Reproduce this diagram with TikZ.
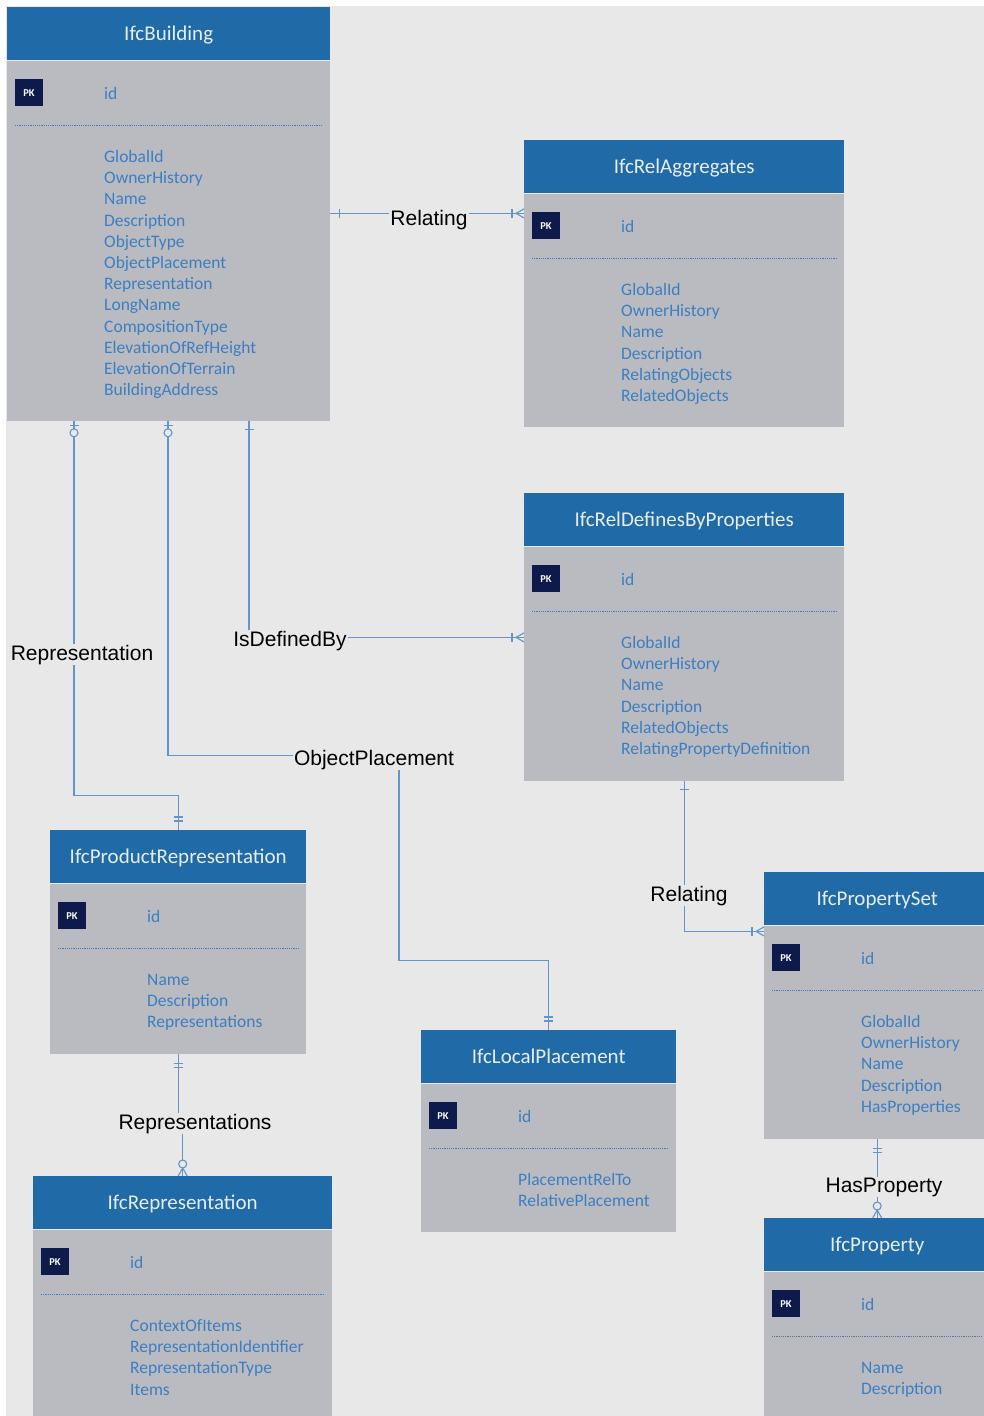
\documentclass[tikz,border=0pt]{standalone}
\usepackage{fontspec}
\usepackage{tikz}
\usetikzlibrary{calc,decorations.markings}

\newfontfamily\tblfont{Carlito}
\newfontfamily\lblfont{Liberation Sans}

\definecolor{bg}{HTML}{E8E8E8}
\definecolor{hdrblue}{HTML}{1F6AA7}
\definecolor{hdrtext}{HTML}{E6EDF5}
\definecolor{bodygray}{HTML}{B9BBC0}
\definecolor{attrblue}{HTML}{3D7EC3}
\definecolor{relblue}{HTML}{6394CC}
\definecolor{pknavy}{HTML}{0E1A4B}

\tikzset{
  hdr/.style={fill=hdrblue, text=hdrtext, minimum height=53pt, inner sep=0pt,
    text height=17pt, text depth=4pt, font=\tblfont\fontsize{21}{21}\selectfont},
  bodybox/.style={fill=bodygray, inner sep=0pt},
  pk/.style={fill=pknavy, text=white, minimum width=28pt, minimum height=27pt,
    inner sep=0pt, font=\tblfont\bfseries\fontsize{10.5}{10.5}\selectfont},
  attr/.style={anchor=base west, inner sep=0pt, text=attrblue,
    font=\tblfont\fontsize{17.5}{17.5}\selectfont},
  sepline/.style={draw=attrblue, line width=1pt, dash pattern=on 1.2pt off 1pt},
  rel/.style={draw=relblue, line width=1.1pt},
  mk/.style={draw=relblue, line width=1.1pt},
  lbl/.style={anchor=base, fill=bg, inner sep=1pt, text=black,
    font=\lblfont\fontsize{21}{21}\selectfont},
  % cardinality marks
  onestart/.style={postaction={decorate, decoration={markings,
    mark=at position 9pt with {\draw[mk] (0,-4.5pt) -- (0,4.5pt);}}}},
  zeroonestart/.style={postaction={decorate, decoration={markings,
    mark=at position 5pt with {\draw[mk] (0,-4.5pt) -- (0,4.5pt);},
    mark=at position 12pt with {\draw[mk, fill=bg] (0,0) circle[radius=4pt];}}}},
  onlyonestart/.style={postaction={decorate, decoration={markings,
    mark=at position 10pt with {\draw[mk] (0,-4.5pt) -- (0,4.5pt);},
    mark=at position 14pt with {\draw[mk] (0,-4.5pt) -- (0,4.5pt);}}}},
  onlyoneend/.style={postaction={decorate, decoration={markings,
    mark=at position -13pt with {\draw[mk] (0,-4.5pt) -- (0,4.5pt);},
    mark=at position -9pt with {\draw[mk] (0,-4.5pt) -- (0,4.5pt);}}}},
  manyend/.style={postaction={decorate, decoration={markings,
    mark=at position -12pt with {\draw[mk] (0,-4.5pt) -- (0,4.5pt);},
    mark=at position -8pt with {\draw[mk] (0,0) -- (8pt,4.5pt) (0,0) -- (8pt,-4.5pt);}}}},
  zeromanyend/.style={postaction={decorate, decoration={markings,
    mark=at position -12pt with {\draw[mk, fill=bg] (0,0) circle[radius=4pt];},
    mark=at position -8pt with {\draw[mk] (0,0) -- (8pt,4.5pt) (0,0) -- (8pt,-4.5pt);}}}}
}

% #1 name, #2 left, #3 top, #4 width, #5 body height, #6 title, #7 attributes
\newcommand{\ifcentity}[7]{%
  \node[hdr, minimum width=#4pt, anchor=north west] (#1h) at (#2,#3) {#6};
  \node[bodybox, minimum width=#4pt, minimum height=#5pt, anchor=north west] (#1b) at (#1h.south west) {};
  \node[pk] (#1pk) at ($(#1b.north west)+(22,32.5)$) {PK};
  \node[attr] (#1id) at ($(#1b.north west)+(97,39)$) {id};
  \draw[sepline] ($(#1b.north west)+(8,65)$) -- ($(#1b.north east)+(-8,65)$);
  \foreach \a [count=\i] in {#7}
    \node[attr] (#1a\i) at ($(#1b.north west)+(97,102+21.2*\i-21.2)$) {\a};
}

\begin{document}
\begin{tikzpicture}[x=1pt, y=-1pt]
\useasboundingbox (0,0) rectangle (984,1416);
\fill[white] (0,0) rectangle (984,1416);
\fill[bg] (6,6) rectangle (984,1416);
\clip (0,0) rectangle (984,1416);

\ifcentity{bld}{7}{7}{323}{360}{IfcBuilding}{GlobalId,OwnerHistory,Name,Description,ObjectType,ObjectPlacement,Representation,LongName,CompositionType,ElevationOfRefHeight,ElevationOfTerrain,BuildingAddress}
\ifcentity{agg}{524}{140}{320}{233}{IfcRelAggregates}{GlobalId,OwnerHistory,Name,Description,RelatingObjects,RelatedObjects}
\ifcentity{def}{524}{493}{320}{234}{IfcRelDefinesByProperties}{GlobalId,OwnerHistory,Name,Description,RelatedObjects,RelatingPropertyDefinition}
\ifcentity{pr}{50}{830}{256}{170}{IfcProductRepresentation}{Name,Description,Representations}
\ifcentity{rep}{33}{1176}{299}{250}{IfcRepresentation}{ContextOfItems,RepresentationIdentifier,RepresentationType,Items}
\ifcentity{lp}{421}{1030}{255}{148}{IfcLocalPlacement}{PlacementRelTo,RelativePlacement}
\ifcentity{ps}{764}{872}{226}{213}{IfcPropertySet}{GlobalId,OwnerHistory,Name,Description,HasProperties}
\ifcentity{prop}{764}{1218}{226}{200}{IfcProperty}{Name,Description}

% relationships
\draw[rel, onestart, manyend] ([yshift=-153pt]bldb.north east) -- ([yshift=-20pt]aggb.north west);
\draw[rel, zeroonestart, onlyoneend] ([xshift=67pt]bldb.south west) -- ++(0,375) -| (prh.north);
\draw[rel, zeroonestart, onlyoneend] ([xshift=161pt]bldb.south west) -- ++(0,335) -| ++(231,205) -| (lph.north);
\draw[rel, onestart, manyend] ([xshift=242pt]bldb.south west) |- ([yshift=-91pt]defb.north west);
\draw[rel, onestart, manyend] (defb.south) |- ([yshift=-6pt]psb.north west);
\draw[rel, onlyonestart, zeromanyend] (prb.south) -- ++(0,68) -| (reph.north);
\draw[rel, onlyonestart, zeromanyend] (psb.south) -- (proph.north);

% labels
\node[lbl] (relAggLbl) at (429,225) {Relating};
\node[lbl] (reprLbl) at (82,660) {Representation};
\node[lbl] (definedLbl) at (290,646) {IsDefinedBy};
\node[lbl] (placeLbl) at (374,765) {ObjectPlacement};
\node[lbl] (relPsetLbl) at (689,901) {Relating};
\node[lbl] (reprsLbl) at (195,1129) {Representations};
\node[lbl] (hasPropLbl) at (884,1192) {HasProperty};
\end{tikzpicture}
\end{document}
